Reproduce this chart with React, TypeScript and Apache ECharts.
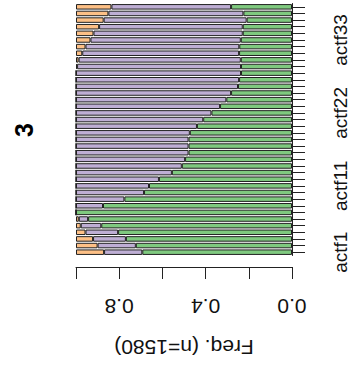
import React, { useEffect, useRef } from "react";
import * as echarts from "echarts";

const categories = [
  "actf1", "actf2", "actf3", "actf4", "actf5", "actf6", "actf7", "actf8", "actf9", "actf10",
  "actf11", "actf12", "actf13", "actf14", "actf15", "actf16", "actf17", "actf18", "actf19", "actf20",
  "actf21", "actf22", "actf23", "actf24", "actf25", "actf26", "actf27", "actf28", "actf29", "actf30",
  "actf31", "actf32", "actf33", "actf34", "actf35", "actf36", "actf37", "actf38",
];
const shownLabels = ["actf1", "actf11", "actf22", "actf33"];

const green = [
  0.693, 0.723, 0.769, 0.805, 0.883, 0.944, 1.0, 0.875, 0.776, 0.685,
  0.662, 0.616, 0.556, 0.51, 0.495, 0.479, 0.479, 0.479, 0.473, 0.44,
  0.411, 0.373, 0.333, 0.304, 0.282, 0.25, 0.245, 0.236, 0.236, 0.237,
  0.245, 0.244, 0.237, 0.228, 0.228, 0.21, 0.225, 0.282,
];
const purple = [
  0.177, 0.177, 0.152, 0.151, 0.095, 0.043, 0, 0.125, 0.224, 0.315,
  0.338, 0.384, 0.444, 0.49, 0.505, 0.521, 0.521, 0.521, 0.527, 0.56,
  0.589, 0.627, 0.667, 0.696, 0.718, 0.75, 0.755, 0.764, 0.759, 0.751,
  0.726, 0.712, 0.696, 0.691, 0.665, 0.662, 0.625, 0.554,
];
const orange = [
  0.13, 0.1, 0.079, 0.044, 0.022, 0.013, 0, 0, 0, 0,
  0, 0, 0, 0, 0, 0, 0, 0, 0, 0,
  0, 0, 0, 0, 0, 0, 0, 0, 0.005, 0.012,
  0.029, 0.044, 0.067, 0.081, 0.107, 0.128, 0.15, 0.164,
];
const valueTickLabels = ["0.0", "0.4", "0.8"];
const titleText = "3";
const axisTitle = "Freq. (n=1580)";

export default function App() {
  const ref = useRef<HTMLDivElement>(null);
  useEffect(() => {
    if (!ref.current) return;
    const chart = echarts.init(ref.current, null, { renderer: "svg" });
    const font = "'Liberation Sans', Arial, sans-serif";
    const line = { color: "#222", width: 1 };
    const barStyle = (c: string) => ({ color: c, borderColor: "#222", borderWidth: 1 });
    chart.setOption({
      animation: false,
      backgroundColor: "#fff",
      grid: { left: 76, right: 55, top: 3.5, height: 252 },
      graphic: [
        {
          type: "text",
          x: 24,
          y: 130,
          rotation: Math.PI / 2,
          style: {
            text: titleText,
            font: `bold 25px ${font}`,
            fill: "#000",
            textAlign: "center",
            textVerticalAlign: "middle",
          },
        },
      ],
      xAxis: {
        type: "value",
        min: 0,
        max: 1,
        interval: 0.2,
        inverse: true,
        position: "bottom",
        offset: 11.5,
        splitLine: { show: false },
        axisLine: { show: true, lineStyle: line },
        axisTick: { show: true, length: 12, lineStyle: line },
        axisLabel: {
          rotate: 180,
          margin: 29,
          fontSize: 21,
          fontFamily: font,
          color: "#111",
          formatter: (v: number) => {
            const s = v.toFixed(1);
            return valueTickLabels.includes(s) ? s : "";
          },
        },
        name: axisTitle,
        nameLocation: "middle",
        nameRotate: 180,
        nameGap: 70,
        nameTextStyle: { fontSize: 21, fontFamily: font, color: "#111" },
      },
      yAxis: {
        type: "category",
        data: categories,
        position: "right",
        offset: 5,
        axisLine: { show: true, lineStyle: line },
        axisTick: { show: true, alignWithLabel: true, interval: 0, length: 13, lineStyle: line },
        axisLabel: {
          interval: (i: number, v: string) => shownLabels.includes(v),
          rotate: 90,
          margin: 34,
          fontSize: 19,
          fontFamily: font,
          color: "#111",
        },
      },
      series: [
        { type: "bar", stack: "s", data: green, barCategoryGap: "17%", itemStyle: barStyle("#7FC97F") },
        { type: "bar", stack: "s", data: purple, barCategoryGap: "17%", itemStyle: barStyle("#BEAED4") },
        { type: "bar", stack: "s", data: orange, barCategoryGap: "17%", itemStyle: barStyle("#FDC086") },
      ],
    });
    return () => chart.dispose();
  }, []);
  return (
    <div
      ref={ref}
      style={{ position: "fixed", left: 0, top: 0, width: 350, height: 365, background: "#fff" }}
    />
  );
}
